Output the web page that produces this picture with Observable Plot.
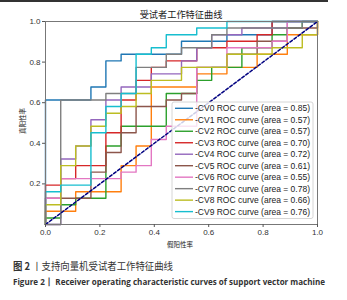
<!DOCTYPE html>
<html>
<head>
<meta charset="utf-8">
<script src="https://cdn.jsdelivr.net/npm/d3@7"></script>
<script src="https://cdn.jsdelivr.net/npm/@observablehq/plot@0.6"></script>
<style>
  html, body { margin: 0; padding: 0; background: #fff; }
  #wrap { position: relative; width: 347px; height: 300px; overflow: hidden; background: #fff; }
  #wrap > svg.ov { position: absolute; left: 0; top: 0; pointer-events: none; }
  #topbar { position: absolute; left: 0; top: 0; width: 328px; height: 2px; background: #333; }
</style>
</head>
<body>
<div id="wrap"><div id="topbar"></div></div>
<script>
// ROC curve corner points (false positive rate / true positive rate)
const fpr0 = [0,0,0.167,0.167,0.222,0.222,0.278,0.278,0.5,0.5,0.667,0.667,0.833,0.833,1];
const tpr0 = [0,0.613,0.613,0.677,0.677,0.806,0.806,0.839,0.839,0.903,0.903,0.935,0.935,1,1];
const fpr1 = [0,0,0.111,0.111,0.278,0.278,0.333,0.333,0.389,0.389,0.556,0.556,0.667,0.667,0.778,0.778,0.889,0.889,1,1];
const tpr1 = [0,0.065,0.065,0.161,0.161,0.29,0.29,0.387,0.387,0.677,0.677,0.742,0.742,0.774,0.774,0.839,0.839,0.935,0.935,1];
const fpr2 = [0,0,0.056,0.056,0.111,0.111,0.222,0.222,0.278,0.278,0.444,0.444,0.556,0.556,0.611,0.611,0.722,0.722,0.833,0.833,0.889,0.889,0.944,0.944,1];
const tpr2 = [0,0.032,0.032,0.097,0.097,0.129,0.129,0.387,0.387,0.484,0.484,0.645,0.645,0.71,0.71,0.774,0.774,0.871,0.871,0.935,0.935,0.968,0.968,1,1];
const fpr3 = [0,0,0.056,0.056,0.111,0.111,0.222,0.222,0.278,0.278,0.333,0.333,0.389,0.389,0.444,0.444,0.556,0.556,0.667,0.667,0.778,0.778,0.833,0.833,1];
const tpr3 = [0,0.194,0.194,0.226,0.226,0.29,0.29,0.452,0.452,0.613,0.613,0.71,0.71,0.774,0.774,0.806,0.806,0.871,0.871,0.903,0.903,0.935,0.935,1,1];
const fpr4 = [0,0.056,0.056,0.111,0.111,0.167,0.167,0.222,0.222,0.278,0.278,0.389,0.389,0.5,0.5,0.556,0.556,0.611,0.611,0.722,0.722,0.889,0.889,1];
const tpr4 = [0,0,0.323,0.323,0.387,0.387,0.516,0.516,0.613,0.613,0.677,0.677,0.742,0.742,0.806,0.806,0.871,0.871,0.935,0.935,0.968,0.968,1,1];
const fpr5 = [0,0,0.167,0.167,0.222,0.222,0.278,0.278,0.333,0.333,0.444,0.444,0.5,0.5,0.556,0.556,0.667,0.667,0.778,0.778,0.889,0.889,1,1];
const tpr5 = [0,0.129,0.129,0.258,0.258,0.355,0.355,0.452,0.452,0.581,0.581,0.613,0.613,0.645,0.645,0.774,0.774,0.839,0.839,0.903,0.903,0.968,0.968,1];
const fpr6 = [0,0,0.056,0.056,0.278,0.278,0.333,0.333,0.389,0.389,0.444,0.444,0.556,0.556,0.667,0.667,0.833,0.833,0.889,0.889,1];
const tpr6 = [0,0.129,0.129,0.226,0.226,0.258,0.258,0.29,0.29,0.419,0.419,0.484,0.484,0.774,0.774,0.871,0.871,0.903,0.903,1,1];
const fpr7 = [0,0.056,0.056,0.222,0.222,0.333,0.333,0.444,0.444,0.5,0.5,0.611,0.611,0.667,0.667,0.944,0.944,1];
const tpr7 = [0,0,0.613,0.613,0.645,0.645,0.774,0.774,0.839,0.839,0.871,0.871,0.935,0.935,0.968,0.968,1,1];
const fpr8 = [0,0,0.056,0.056,0.111,0.111,0.167,0.167,0.222,0.222,0.278,0.278,0.333,0.333,0.389,0.389,0.5,0.5,0.667,0.667,0.833,0.833,0.944,0.944,1,1];
const tpr8 = [0,0.097,0.097,0.29,0.29,0.387,0.387,0.484,0.484,0.548,0.548,0.581,0.581,0.645,0.645,0.71,0.71,0.774,0.774,0.839,0.839,0.871,0.871,0.935,0.935,1];
const fpr9 = [0,0,0.056,0.056,0.167,0.167,0.222,0.222,0.278,0.278,0.333,0.333,0.389,0.389,0.444,0.444,0.556,0.556,0.667,0.667,1];
const tpr9 = [0,0.161,0.161,0.194,0.194,0.452,0.452,0.581,0.581,0.645,0.645,0.839,0.839,0.871,0.871,0.935,0.935,0.968,0.968,1,1];

const foldNames = ["CV0","CV1","CV2","CV3","CV4","CV5","CV6","CV7","CV8","CV9"];
const aucs = [0.85,0.57,0.57,0.70,0.72,0.61,0.55,0.78,0.66,0.76];
const colors = ["#1f77b4","#ff7f0e","#2ca02c","#d62728","#9467bd","#8c564b","#e377c2","#7f7f7f","#bcbd22","#17becf"];
const xTicks = [0,0.2,0.4,0.6,0.8,1.0];
const yTicks = [0.2,0.4,0.6,0.8,1.0];
const chartTitle = "受试者工作特征曲线";
const xLabel = "假阳性率";
const yLabel = "真阳性率";
const captionZh = "丨支持向量机受试者工作特征曲线";
const captionEn = "Figure 2丨 Receiver operating characteristic curves of support vector machine";

const fprs = [fpr0,fpr1,fpr2,fpr3,fpr4,fpr5,fpr6,fpr7,fpr8,fpr9];
const tprs = [tpr0,tpr1,tpr2,tpr3,tpr4,tpr5,tpr6,tpr7,tpr8,tpr9];
const curves = fprs.map((f, i) => f.map((x, j) => ({x, y: tprs[i][j]})));

const W = 347, H = 300;
const ML = 45, MR = 30, MT = 21, MB = 76;

const chart = Plot.plot({
  width: W, height: H,
  marginLeft: ML, marginRight: MR, marginTop: MT, marginBottom: MB,
  x: {domain: [0, 1]},
  y: {domain: [0, 1]},
  style: {fontFamily: "'Liberation Sans', Arial, sans-serif", fontSize: "8px", color: "#333", background: "white", overflow: "visible"},
  marks: [
    ...curves.map((c, i) => Plot.line(c, {x: "x", y: "y", stroke: colors[i], strokeWidth: 1.4})),
    Plot.line([{x: 0, y: 0}, {x: 1, y: 1}], {x: "x", y: "y", stroke: "navy", strokeWidth: 1.5, strokeDasharray: "3,2"}),
    Plot.frame({stroke: "#777", strokeWidth: 1}),
    Plot.axisX({ticks: xTicks, tickFormat: d3.format(".1f"), tickSize: 3, tickPadding: 2, label: null, stroke: "#555"}),
    Plot.axisY({ticks: yTicks, tickFormat: d3.format(".1f"), tickSize: 3, tickPadding: 2, label: null, stroke: "#555"})
  ]
});
const wrap = document.getElementById("wrap");
wrap.appendChild(chart);

// overlay: titles, labels, legend, captions
const ns = "http://www.w3.org/2000/svg";
const ov = document.createElementNS(ns, "svg");
ov.setAttribute("class", "ov");
ov.setAttribute("width", W); ov.setAttribute("height", H);
function el(tag, attrs, text) {
  const e = document.createElementNS(ns, tag);
  for (const k in attrs) e.setAttribute(k, attrs[k]);
  if (text != null) e.textContent = text;
  ov.appendChild(e);
  return e;
}
const cjk = "'Noto Sans CJK SC', 'Noto Sans', sans-serif";
el("text", {x: 181, y: 17.5, "text-anchor": "middle", "font-family": cjk, "font-size": 9.2, fill: "#222"}, chartTitle);
el("text", {x: 0, y: 0, transform: "translate(25,121) rotate(-90)", "text-anchor": "middle", "font-family": cjk, "font-size": 6.5, fill: "#222"}, yLabel);
el("text", {x: 180, y: 246.5, "text-anchor": "middle", "font-family": cjk, "font-size": 6.5, fill: "#222"}, xLabel);

// legend
const lx = 172, ly = 102, lw = 141, lh = 116.5;
el("rect", {x: lx, y: ly, width: lw, height: lh, rx: 2, fill: "white", "fill-opacity": 0.8, stroke: "#ccc", "stroke-width": 0.8});
foldNames.forEach((n, i) => {
  const yy = 108.3 + 11.48 * i;
  el("line", {x1: 175, x2: 193, y1: yy, y2: yy, stroke: colors[i], "stroke-width": 1.4});
  el("text", {x: 195, y: yy + 3, "font-family": "'Liberation Sans', Arial, sans-serif", "font-size": 8.4, fill: "#222", textLength: 115, lengthAdjust: "spacingAndGlyphs"},
     `-${n} ROC curve (area = ${aucs[i].toFixed(2)})`);
});

// captions
const t1 = el("text", {x: 13, y: 270, "font-family": cjk, "font-size": 10, fill: "#333"});
const b1 = document.createElementNS(ns, "tspan"); b1.setAttribute("font-weight", "bold"); b1.textContent = "图 2 ";
const r1 = document.createElementNS(ns, "tspan"); r1.textContent = captionZh;
t1.appendChild(b1); t1.appendChild(r1);
t1.setAttribute("textLength", 160); t1.setAttribute("lengthAdjust", "spacingAndGlyphs");
el("text", {x: 13, y: 284.5, "font-family": "'Open Sans', 'Liberation Sans', sans-serif", "font-weight": "bold", "font-size": 8.5, fill: "#333", textLength: 312, lengthAdjust: "spacingAndGlyphs"}, captionEn);

wrap.appendChild(ov);
</script>
</body>
</html>
